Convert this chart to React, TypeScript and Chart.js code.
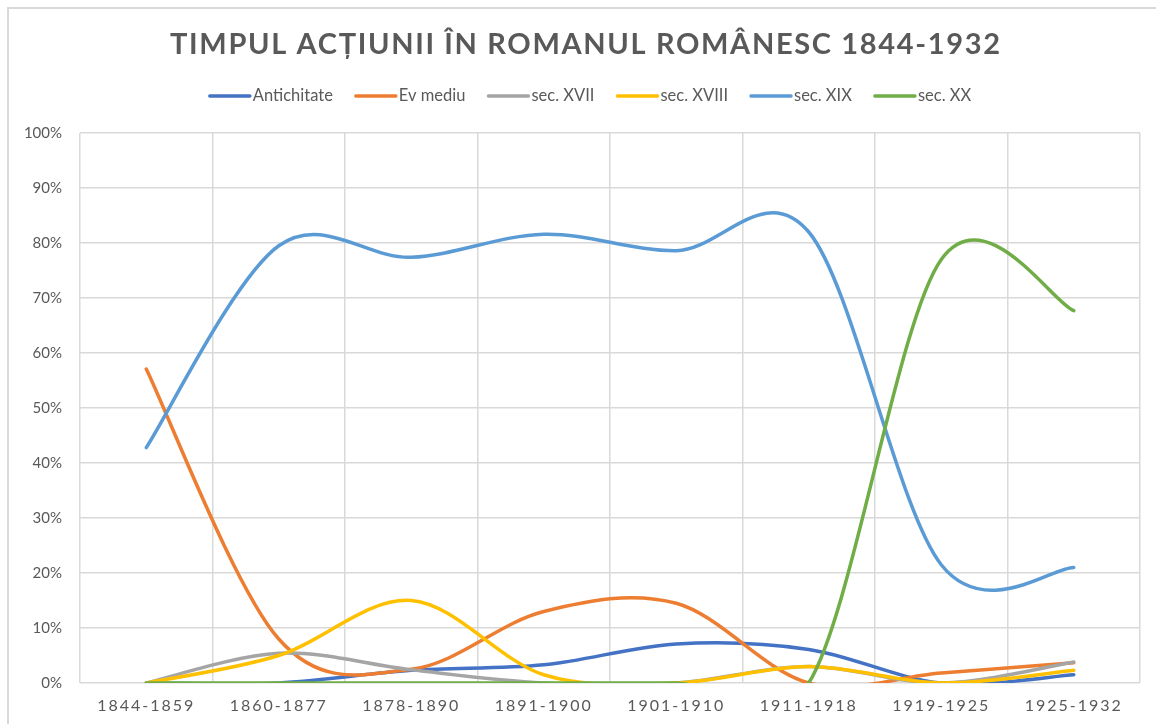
import React, { useEffect, useRef } from 'react';
import { Chart, registerables } from 'chart.js';

Chart.register(...registerables);

const chartTitle = 'TIMPUL ACȚIUNII ÎN ROMANUL ROMÂNESC 1844-1932';
const periods = ['1844-1859', '1860-1877', '1878-1890', '1891-1900', '1901-1910', '1911-1918', '1919-1925', '1925-1932'];
const seriesNames = ['Antichitate', 'Ev mediu', 'sec. XVII', 'sec. XVIII', 'sec. XIX', 'sec. XX'];
const seriesColors = ['#4472C4', '#ED7D31', '#A5A5A5', '#FFC000', '#5B9BD5', '#70AD47'];
const antichitate = [0, 0, 2.3, 3.3, 7.1, 6.1, 0, 1.5];
const evMediu = [57.1, 8, 2.5, 13, 14.5, 0, 1.8, 3.7];
const secXVII = [0, 5.4, 2.4, 0, 0, 3, 0, 3.8];
const secXVIII = [0, 5, 15, 1.5, 0, 3, 0, 2.3];
const secXIX = [42.8, 79.5, 77.4, 81.6, 78.6, 82, 21.5, 21];
const secXX = [0, 0, 0, 0, 0, 0, 77, 67.7];
const yMax = 100;
const yStep = 10;

const textColor = '#595959';
const gridColor = '#D9D9D9';
const FONT = 'Lato, "Open Sans", sans-serif';

export default function App() {
  const canvasRef = useRef<HTMLCanvasElement | null>(null);

  useEffect(() => {
    const canvas = canvasRef.current;
    if (!canvas) return;
    const values = [antichitate, evMediu, secXVII, secXVIII, secXIX, secXX];

    const decor = {
      id: 'decor',
      beforeDraw(chart: any) {
        const ctx = chart.ctx;
        ctx.save();
        ctx.fillStyle = '#ffffff';
        ctx.fillRect(0, 0, chart.width, chart.height);
        ctx.strokeStyle = '#D9D9D9';
        ctx.lineWidth = 2;
        ctx.beginPath();
        ctx.moveTo(8, chart.height);
        ctx.lineTo(8, 8);
        ctx.lineTo(chart.width, 8);
        ctx.stroke();
        ctx.restore();
        const patch = (scale: any, spacing: string) => {
          if (!scale || scale.__patched) return;
          const orig = scale.drawLabels.bind(scale);
          scale.drawLabels = (area: any) => {
            const c = scale.ctx;
            c.save();
            (c as any).letterSpacing = spacing;
            orig(area);
            c.restore();
          };
          scale.__patched = true;
        };
        patch(chart.scales.x, '2px');
      },
      beforeDatasetsDraw(chart: any) {
        // Excel-like smoothing (uniform Catmull-Rom control points)
        chart.getSortedVisibleDatasetMetas().forEach((meta: any) => {
          const line = meta.dataset;
          if (!line) return;
          line.updateControlPoints(chart.chartArea, 'x');
          const pts = meta.data;
          const n = pts.length;
          for (let i = 0; i < n; i++) {
            const p = pts[i];
            const prev = pts[Math.max(0, i - 1)];
            const next = pts[Math.min(n - 1, i + 1)];
            const dx = (next.x - prev.x) / 6;
            const dy = (next.y - prev.y) / 6;
            p.cp1x = p.x - dx;
            p.cp1y = p.y - dy;
            p.cp2x = p.x + dx;
            p.cp2y = p.y + dy;
          }
          line._path = undefined;
        });
      },
      afterDraw(chart: any) {
        const ctx = chart.ctx;
        ctx.save();
        ctx.fillStyle = textColor;
        ctx.font = `bold 29px ${FONT}`;
        ctx.textBaseline = 'middle';
        ctx.textAlign = 'left';
        (ctx as any).letterSpacing = '0px';
        const raw = ctx.measureText(chartTitle).width;
        const targetW = 830;
        const sp = Math.max(0, (targetW - raw) / (chartTitle.length - 1));
        (ctx as any).letterSpacing = `${sp}px`;
        ctx.fillText(chartTitle, 585 - targetW / 2, 45);
        (ctx as any).letterSpacing = '0px';
        // legend
        ctx.font = `16px ${FONT}`;
        const k = 80 / ctx.measureText(seriesNames[0]).width;
        const legendSize = Math.round(16 * k * 2) / 2;
        ctx.font = `${legendSize}px ${FONT}`;
        const lineW = 42;
        const gapText = 2;
        const gapItem = 22;
        const widths = seriesNames.map((n) => lineW + gapText + ctx.measureText(n).width);
        const total = widths.reduce((a, b) => a + b, 0) + gapItem * (widths.length - 1);
        let x = 590 - total / 2;
        const y = 96;
        seriesNames.forEach((name, i) => {
          ctx.strokeStyle = seriesColors[i];
          ctx.lineWidth = 3.5;
          ctx.lineCap = 'round';
          ctx.beginPath();
          ctx.moveTo(x + 1, y);
          ctx.lineTo(x + lineW - 1, y);
          ctx.stroke();
          ctx.fillStyle = textColor;
          ctx.fillText(name, x + lineW + gapText, y);
          x += widths[i] + gapItem;
        });
        ctx.restore();
      },
    };

    const chart = new Chart(canvas, {
      type: 'line',
      data: {
        labels: periods,
        datasets: seriesNames.map((name, i) => ({
          label: name,
          data: values[i],
          borderColor: seriesColors[i],
          backgroundColor: seriesColors[i],
          borderWidth: 3.5,
          borderCapStyle: 'round' as const,
          borderJoinStyle: 'round' as const,
          pointRadius: 0,
          pointHoverRadius: 0,
          tension: 0.4,
          fill: false,
          order: seriesNames.length - i,
        })),
      },
      options: {
        responsive: false,
        animation: false,
        devicePixelRatio: 1,
        layout: { padding: { left: 8, right: 16, top: 133, bottom: 0 } },
        plugins: {
          legend: { display: false },
          title: { display: false },
          tooltip: { enabled: false },
        },
        scales: {
          x: {
            offset: true,
            grid: { offset: true, color: gridColor, lineWidth: 1.5, drawTicks: false },
            border: { display: false },
            ticks: {
              color: textColor,
              font: { family: FONT, size: 16 },
              padding: 13,
              maxRotation: 0,
              autoSkip: false,
            },
            afterFit: (s: any) => {
              s.height = 724 - 683;
            },
          },
          y: {
            min: 0,
            max: yMax,
            grid: { color: gridColor, lineWidth: 1.5, drawTicks: false },
            border: { display: false },
            ticks: {
              stepSize: yStep,
              color: textColor,
              font: { family: FONT, size: 15 },
              padding: 18,
              callback: (v: any) => `${v}%`,
            },
            afterFit: (s: any) => {
              s.width = 80 - 8;
            },
          },
        },
      },
      plugins: [decor],
    });
    return () => chart.destroy();
  }, []);

  return (
    <div style={{ position: 'fixed', left: 0, top: 0, width: 1156, height: 724, background: '#fff' }}>
      <canvas ref={canvasRef} width={1156} height={724} style={{ display: 'block', width: 1156, height: 724 }} />
    </div>
  );
}
